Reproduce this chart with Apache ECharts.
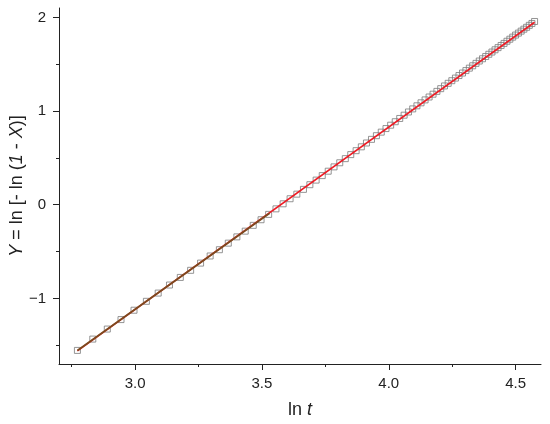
<!DOCTYPE html>
<html>
<head>
<meta charset="utf-8">
<script src="https://cdn.jsdelivr.net/npm/echarts@6/dist/echarts.min.js"></script>
<style>html,body{margin:0;padding:0;background:#fff;}#c{width:550px;height:424px;}</style>
</head>
<body>
<div id="c"></div>
<script>
// ln t values (t = 16 ... 97)
var lnT = [2.7726,2.8332,2.8904,2.9444,2.9957,3.0445,3.0910,3.1355,3.1781,3.2189,
  3.2581,3.2958,3.3322,3.3673,3.4012,3.4340,3.4657,3.4965,3.5264,3.5553,
  3.5835,3.6109,3.6376,3.6636,3.6889,3.7136,3.7377,3.7612,3.7842,3.8067,
  3.8286,3.8501,3.8712,3.8918,3.9120,3.9318,3.9512,3.9703,3.9890,4.0073,
  4.0254,4.0431,4.0604,4.0775,4.0943,4.1109,4.1271,4.1431,4.1589,4.1744,
  4.1897,4.2047,4.2195,4.2341,4.2485,4.2627,4.2767,4.2905,4.3041,4.3175,
  4.3307,4.3438,4.3567,4.3694,4.3820,4.3944,4.4067,4.4188,4.4308,4.4427,
  4.4543,4.4659,4.4773,4.4886,4.4998,4.5109,4.5218,4.5326,4.5433,4.5539,
  4.5643,4.5747];
// Y = ln[-ln(1-X)] values
var yVals = [-1.555,-1.434,-1.327,-1.226,-1.126,-1.031,-0.943,-0.857,-0.776,-0.700,
  -0.623,-0.547,-0.480,-0.410,-0.343,-0.282,-0.220,-0.160,-0.103,-0.044,
  0.010,0.064,0.113,0.164,0.214,0.263,0.311,0.358,0.404,0.448,
  0.492,0.535,0.577,0.618,0.659,0.698,0.737,0.775,0.813,0.849,
  0.886,0.921,0.956,0.990,1.023,1.056,1.088,1.119,1.150,1.180,
  1.210,1.239,1.268,1.296,1.324,1.352,1.379,1.406,1.432,1.458,
  1.483,1.509,1.534,1.558,1.582,1.606,1.630,1.654,1.677,1.700,
  1.722,1.745,1.767,1.789,1.811,1.832,1.853,1.874,1.894,1.915,
  1.935,1.956];
// fitted lines (end points)
var redFitX = [2.7726, 4.5747];
var redFitY = [-1.560, 1.948];
var brownFitX = [2.7726, 3.530];
var brownFitY = [-1.555, -0.090];
// ticks
var xLabels = [3.0, 3.5, 4.0, 4.5];
var xMinor = [2.75, 3.25, 3.75, 4.25];
var yLabels = [-1, 0, 1, 2];
var yMinor = [-1.5, -0.5, 0.5, 1.5];

function pairs(xs, ys){ return xs.map(function(x,i){ return [x, ys[i]]; }); }

var font = 'Liberation Sans, Arial, sans-serif';
var axisCol = '#222';
var rich = {
  n:{fontSize:18,fontFamily:font,color:'#222'},
  i:{fontSize:18,fontFamily:font,fontStyle:'italic',color:'#222'}
};
function mkX(main){
  return {
    type:'value', min:2.7, max:4.6, position:'bottom',
    axisLine:{show:main, onZero:false, lineStyle:{color:axisCol, width:1}},
    splitLine:{show:false},
    axisTick:{show:true, inside:false, length: main?6:3, lineStyle:{color:axisCol,width:1},
      customValues: main ? xLabels : xMinor},
    axisLabel:{show:main, customValues: xLabels, color:'#222', fontSize:15, fontFamily:font, margin:12,
      formatter:function(v){ return v.toFixed(1); }},
    name: main ? '{n|ln }{i|t}' : '', nameLocation:'middle', nameGap:37, nameMoveOverlap:false,
    nameTextStyle:{rich:rich}
  };
}
function mkY(main){
  return {
    type:'value', min:-1.7, max:2.1, position:'left',
    axisLine:{show:main, onZero:false, lineStyle:{color:axisCol, width:1}},
    splitLine:{show:false},
    axisTick:{show:true, inside:false, length: main?6:3, lineStyle:{color:axisCol,width:1},
      customValues: main ? yLabels : yMinor},
    axisLabel:{show:main, customValues: yLabels, color:'#222', fontSize:15, fontFamily:font, margin:13,
      formatter:function(v){ return v < 0 ? '\u2212' + Math.abs(v) : String(v); }},
    name: main ? '{i|Y}{n| = ln [- ln (}{i|1}{n| - }{i|X}{n|)]}' : '', nameLocation:'middle', nameGap:33, nameMoveOverlap:false,
    nameTextStyle:{rich:rich}
  };
}

var chart = echarts.init(document.getElementById('c'), null, {renderer:'canvas'});
chart.setOption({
  backgroundColor:'#fff',
  animation:false,
  grid:{left:59, right:9, top:8, bottom:60, containLabel:false, outerBoundsMode:'none'},
  xAxis:[mkX(true), mkX(false)],
  yAxis:[mkY(true), mkY(false)],
  series:[
    {type:'scatter', xAxisIndex:0, yAxisIndex:0, data: pairs(lnT, yVals), symbol:'rect', symbolSize:6,
      itemStyle:{color:'rgba(255,255,255,0)', borderColor:'#7a7a7a', borderWidth:1}, z:2},
    {type:'line', xAxisIndex:0, yAxisIndex:0, data: pairs(redFitX, redFitY), showSymbol:false,
      lineStyle:{color:'#ee1c25', width:1.6}, z:3},
    {type:'line', xAxisIndex:0, yAxisIndex:0, data: pairs(brownFitX, brownFitY), showSymbol:false,
      lineStyle:{color:'#7b4a1e', width:1.8}, z:4}
  ]
});
</script>
</body>
</html>
